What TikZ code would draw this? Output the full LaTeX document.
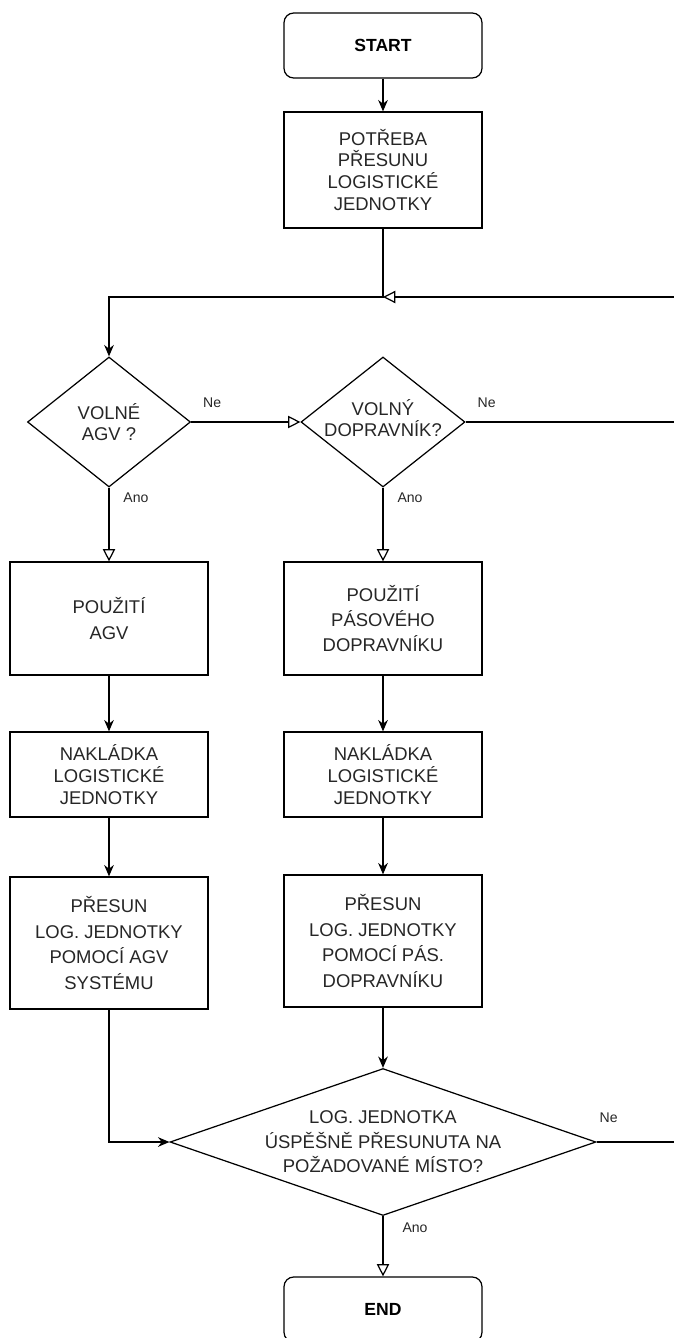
\documentclass[tikz,border=0pt]{standalone}
\usepackage{fontspec}
\setmainfont{Liberation Sans}
\usetikzlibrary{shapes.geometric,arrows.meta}

\tikzset{
	box/.style={draw, line width=0.7pt, align=center, inner sep=2pt, text=black!85,
		minimum width=3.96cm, font=\fontsize{10.5}{12.5}\selectfont},
	wide/.style={font=\fontsize{10.5}{14.5}\selectfont},
	terminal/.style={box, rounded corners=5.5pt, minimum height=1.3cm, text=black,
		font=\bfseries\fontsize{10}{12}\selectfont},
	decision/.style={draw, line width=0.7pt, diamond, inner sep=0pt},
	dtext/.style={align=center, inner sep=0pt, text=black!85, font=\fontsize{10.5}{12}\selectfont},
	lbl/.style={inner sep=0pt, text=black!85, font=\fontsize{8}{9}\selectfont},
	arr/.style={line width=0.7pt, -{Stealth[length=6.5pt,width=5.5pt]}},
	oarr/.style={line width=0.7pt, -{Triangle[open,length=7pt,width=7pt]}},
	plain/.style={line width=0.7pt}
}

\begin{document}
\begin{tikzpicture}[x=0.02cm, y=-0.02cm]
	\useasboundingbox (0,0) rectangle (673,1338);

	\node[terminal] (start) at (383,45.5) {START};
	\node[box, minimum height=2.32cm] (need) at (383,170) {POTŘEBA\\PŘESUNU\\LOGISTICKÉ\\JEDNOTKY};
	\coordinate (split) at (383,297);
	\coordinate (back) at (690,297);

	% volne AGV / volny dopravnik
	\node[decision, minimum width=3.26cm, minimum height=2.6cm] (d1) at (109,422) {};
	\node[dtext] (d1t) at (d1) {VOLNÉ\\AGV ?};
	\node[decision, minimum width=3.28cm, minimum height=2.6cm] (d2) at (383,422) {};
	\node[dtext] (d2t) at ([yshift=2pt]d2) {VOLNÝ\\DOPRAVNÍK?};
	\coordinate (out2) at (690,422);

	% AGV branch
	\node[box, wide, minimum height=2.26cm] (agv) at (109,618.5) {POUŽITÍ\\AGV};
	\node[box, minimum height=1.7cm] (loadA) at (109,774.5) {NAKLÁDKA\\LOGISTICKÉ\\JEDNOTKY};
	\node[box, wide, minimum height=2.64cm] (moveA) at (109,943) {PŘESUN\\LOG. JEDNOTKY\\POMOCÍ AGV\\SYSTÉMU};

	% belt conveyor branch
	\node[box, wide, minimum height=2.26cm] (belt) at (383,618.5) {POUŽITÍ\\PÁSOVÉHO\\DOPRAVNÍKU};
	\node[box, minimum height=1.7cm] (loadB) at (383,774.5) {NAKLÁDKA\\LOGISTICKÉ\\JEDNOTKY};
	\node[box, wide, minimum height=2.64cm] (moveB) at (383,941) {PŘESUN\\LOG. JEDNOTKY\\POMOCÍ PÁS.\\DOPRAVNÍKU};

	% check and end
	\node[decision, minimum width=8.52cm, minimum height=2.94cm] (d3) at (383,1142) {};
	\node[dtext, font=\fontsize{10.5}{14}\selectfont] (d3t) at (d3) {LOG. JEDNOTKA\\ÚSPĚŠNĚ PŘESUNUTA NA\\POŽADOVANÉ MÍSTO?};
	\coordinate (out3) at (690,1142);
	\node[terminal] (end) at (383,1309.5) {END};

	\draw[arr] (start) -- (need);
	\draw[arr] (need) -- (split) -| (d1);
	\draw[oarr] (back) -- (split);
	\draw[oarr] (d1) -- node[lbl, pos=0, shift={(21,-19)}] (ne1) {Ne} (d2);
	\draw[plain] (d2) -- node[lbl, pos=0, shift={(21,-19)}] (ne2) {Ne} (out2);
	\draw[oarr] (d1) -- node[lbl, pos=0, shift={(27,10)}] (ano1) {Ano} (agv);
	\draw[oarr] (d2) -- node[lbl, pos=0, shift={(27,10)}] (ano2) {Ano} (belt);
	\draw[arr] (agv) -- (loadA);
	\draw[arr] (loadA) -- (moveA);
	\draw[arr] (belt) -- (loadB);
	\draw[arr] (loadB) -- (moveB);
	\draw[arr] (moveA) |- (d3);
	\draw[arr] (moveB) -- (d3);
	\draw[plain] (d3) -- node[lbl, pos=0, shift={(12,-24)}] (ne3) {Ne} (out3);
	\draw[oarr] (d3) -- node[lbl, pos=0, shift={(32,12)}] (ano3) {Ano} (end);
\end{tikzpicture}
\end{document}
